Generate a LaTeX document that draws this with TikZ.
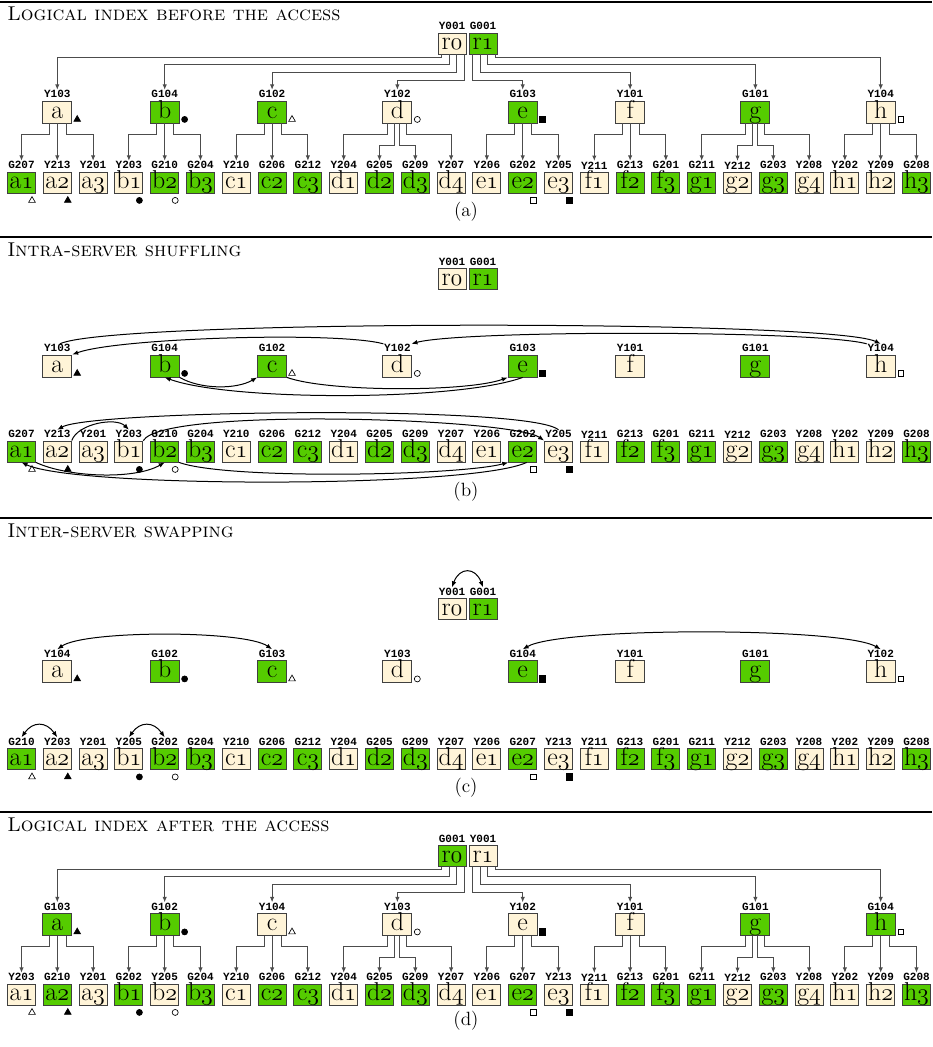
\documentclass[tikz,border=0pt]{standalone}
\usepackage{fontspec}
\usepackage{tikz}
\usetikzlibrary{arrows.meta,positioning,calc,shapes.geometric}
\newfontfamily\tagfont{Liberation Mono}
\definecolor{cellY}{HTML}{FFF4D8}
\definecolor{cellG}{HTML}{55CC00}
\newcommand{\osn}[1]{{\usefont{OML}{cmm}{m}{it}#1}}
% size, name, x, y, text, colour letter, number
\newcommand{\cell}[7]{%
  \node[#1, fill=cell#6] (#2) at (#3,#4) {#5};
  \node[tag, above=1pt of #2] (#2t) {#6#7};}
\tikzset{
  cellbox/.style={draw=black!75, line width=0.5pt, inner sep=0pt, font=\fontsize{15.5}{15.5}\selectfont, text height=9.8pt, text depth=2.6pt},
  leafbox/.style={cellbox, minimum width=16.8pt, minimum height=12.6pt},
  midbox/.style={cellbox, minimum width=17.4pt, minimum height=13.2pt},
  tag/.style={inner sep=0.3pt, font=\tagfont\bfseries\fontsize{6.6}{6.6}\selectfont},
  panelrule/.style={line width=1.7pt},
  caption/.style={anchor=west, inner sep=0pt, font=\fontsize{12}{14}\selectfont},
  subcap/.style={font=\fontsize{11.5}{13}\selectfont},
  treeline/.style={draw=black!70, line width=0.55pt, >={Latex[length=3.2pt,width=2.6pt]}, ->},
  shuffle/.style={draw=black, line width=0.6pt, ->},
  exchange/.style={draw=black, line width=0.6pt, <->},
  sym/.style={draw=black, line width=0.4pt, inner sep=0pt},
  ftri/.style={sym, regular polygon, regular polygon sides=3, minimum size=4.6pt, fill=black},
  otri/.style={ftri, fill=white},
  fdot/.style={sym, circle, minimum size=3.6pt, fill=black},
  odot/.style={fdot, fill=white},
  fsq/.style={sym, rectangle, minimum size=3.8pt, fill=black},
  osq/.style={fsq, minimum size=3.2pt, fill=white},
}

\begin{document}
\begin{tikzpicture}[x=0.6pt, y=-0.6pt, >={Latex[length=3.6pt,width=2.8pt]}]
  \useasboundingbox (0,0) rectangle (932,1047);

  % (a) logical index before
  \draw[panelrule] (0,2) -- (932,2);
  \node[caption] (capA) at (7,14) {\textsc{Logical index before the access}};
  \cell{leafbox}{A-r0}{452}{43.5}{r\osn{0}}{Y}{001}
  \cell{leafbox}{A-r1}{483}{43.5}{r\osn{1}}{G}{001}
  \foreach \m/\k/\c/\n in {a/1/Y/103, b/4/G/104, c/7/G/102, d/10.5/Y/102, e/14/G/103, f/17/Y/101, g/20.5/G/101, h/24/Y/104}
    {\cell{midbox}{A-\m}{21.5+35.8*\k}{112}{\m}{\c}{\n}}
  \foreach \l/\d/\c/\n [count=\i from 0] in {a/1/G/207, a/2/Y/213, a/3/Y/201, b/1/Y/203, b/2/G/210, b/3/G/204, c/1/Y/210, c/2/G/206, c/3/G/212, d/1/Y/204, d/2/G/205, d/3/G/209, d/4/Y/207, e/1/Y/206, e/2/G/202, e/3/Y/205, f/1/Y/211, f/2/G/213, f/3/G/201, g/1/G/211, g/2/Y/212, g/3/G/203, g/4/Y/208, h/1/Y/202, h/2/Y/209, h/3/G/208}
    {\cell{leafbox}{A-\l\d}{21.5+35.8*\i}{182.5}{\l\osn{\d}}{\c}{\n}}
  \node[subcap] (subA) at (466,212) {(a)};

  % (b) intra-server shuffling
  \draw[panelrule] (0,237) -- (932,237);
  \node[caption] (capB) at (7,250) {\textsc{Intra-server shuffling}};
  \cell{leafbox}{B-r0}{452}{279}{r\osn{0}}{Y}{001}
  \cell{leafbox}{B-r1}{483}{279}{r\osn{1}}{G}{001}
  \foreach \m/\k/\c/\n in {a/1/Y/103, b/4/G/104, c/7/G/102, d/10.5/Y/102, e/14/G/103, f/17/Y/101, g/20.5/G/101, h/24/Y/104}
    {\cell{midbox}{B-\m}{21.5+35.8*\k}{366}{\m}{\c}{\n}}
  \foreach \l/\d/\c/\n [count=\i from 0] in {a/1/G/207, a/2/Y/213, a/3/Y/201, b/1/Y/203, b/2/G/210, b/3/G/204, c/1/Y/210, c/2/G/206, c/3/G/212, d/1/Y/204, d/2/G/205, d/3/G/209, d/4/Y/207, e/1/Y/206, e/2/G/202, e/3/Y/205, f/1/Y/211, f/2/G/213, f/3/G/201, g/1/G/211, g/2/Y/212, g/3/G/203, g/4/Y/208, h/1/Y/202, h/2/Y/209, h/3/G/208}
    {\cell{leafbox}{B-\l\d}{21.5+35.8*\i}{451.5}{\l\osn{\d}}{\c}{\n}}
  \node[subcap] (subB) at (466,492) {(b)};

  % (c) inter-server swapping
  \draw[panelrule] (0,518) -- (932,518);
  \node[caption] (capC) at (7,531) {\textsc{Inter-server swapping}};
  \cell{leafbox}{C-r0}{452}{609}{r\osn{0}}{Y}{001}
  \cell{leafbox}{C-r1}{483}{609}{r\osn{1}}{G}{001}
  \foreach \m/\k/\c/\n in {a/1/Y/104, b/4/G/102, c/7/G/103, d/10.5/Y/103, e/14/G/104, f/17/Y/101, g/20.5/G/101, h/24/Y/102}
    {\cell{midbox}{C-\m}{21.5+35.8*\k}{671.5}{\m}{\c}{\n}}
  \foreach \l/\d/\c/\n [count=\i from 0] in {a/1/G/210, a/2/Y/203, a/3/Y/201, b/1/Y/205, b/2/G/202, b/3/G/204, c/1/Y/210, c/2/G/206, c/3/G/212, d/1/Y/204, d/2/G/205, d/3/G/209, d/4/Y/207, e/1/Y/206, e/2/G/207, e/3/Y/213, f/1/Y/211, f/2/G/213, f/3/G/201, g/1/G/211, g/2/Y/212, g/3/G/203, g/4/Y/208, h/1/Y/202, h/2/Y/209, h/3/G/208}
    {\cell{leafbox}{C-\l\d}{21.5+35.8*\i}{759}{\l\osn{\d}}{\c}{\n}}
  \node[subcap] (subC) at (466,788) {(c)};

  % (d) logical index after
  \draw[panelrule] (0,812) -- (932,812);
  \node[caption] (capD) at (7,825) {\textsc{Logical index after the access}};
  \cell{leafbox}{D-r0}{452}{856}{r\osn{0}}{G}{001}
  \cell{leafbox}{D-r1}{483}{856}{r\osn{1}}{Y}{001}
  \foreach \m/\k/\c/\n in {a/1/G/103, b/4/G/102, c/7/Y/104, d/10.5/Y/103, e/14/Y/102, f/17/Y/101, g/20.5/G/101, h/24/G/104}
    {\cell{midbox}{D-\m}{21.5+35.8*\k}{924.5}{\m}{\c}{\n}}
  \foreach \l/\d/\c/\n [count=\i from 0] in {a/1/Y/203, a/2/G/210, a/3/Y/201, b/1/G/202, b/2/Y/205, b/3/G/204, c/1/Y/210, c/2/G/206, c/3/G/212, d/1/Y/204, d/2/G/205, d/3/G/209, d/4/Y/207, e/1/Y/206, e/2/G/207, e/3/Y/213, f/1/Y/211, f/2/G/213, f/3/G/201, g/1/G/211, g/2/Y/212, g/3/G/203, g/4/Y/208, h/1/Y/202, h/2/Y/209, h/3/G/208}
    {\cell{leafbox}{D-\l\d}{21.5+35.8*\i}{994.5}{\l\osn{\d}}{\c}{\n}}
  \node[subcap] (subD) at (466,1021) {(d)};

  % markers, same slots in every panel
  \foreach \p in {A,B,C,D} {
    \foreach \m/\s in {a/ftri, b/fdot, c/otri, d/odot, e/fsq, h/osq}
      \node[\s] (\p-\m m) at ($(\p-\m.south east)+(5,-4)$) {};
    \foreach \m/\s in {a1/otri, a2/ftri, b1/fdot, b2/odot, e2/osq, e3/fsq}
      \node[\s] (\p-\m m) at ($(\p-\m.south)+(10.5,7)$) {};
  }

  % tree links in (a) and (d)
  \foreach \p in {A,D} {
    \foreach \m/\dx/\dy in {a/-11/3, b/-3/10, c/4/18, d/12/26}
      \draw[treeline] ($(\p-r0.south)+(\dx,0)$) -- ++(0,\dy) -| (\p-\m t.north);
    \foreach \m/\dx/\dy in {e/-11/26, f/-3/18, g/4/10, h/12/3}
      \draw[treeline] ($(\p-r1.south)+(\dx,0)$) -- ++(0,\dy) -| (\p-\m t.north);
    \foreach \m in {a,b,c,e,f,h} {
      \draw[treeline] ($(\p-\m.south)+(-8,0)$) -- ++(0,11) -| (\p-\m1t.north);
      \draw[treeline] (\p-\m.south) -- (\p-\m2t.north);
      \draw[treeline] ($(\p-\m.south)+(9,0)$) -- ++(0,11) -| (\p-\m3t.north);
    }
    \foreach \m in {d,g} {
      \draw[treeline] ($(\p-\m.south)+(-10,0)$) -- ++(0,11) -| (\p-\m1t.north);
      \draw[treeline] ($(\p-\m.south)+(-3,0)$) -- ++(0,22) -| (\p-\m2t.north);
      \draw[treeline] ($(\p-\m.south)+(2,0)$) -- ++(0,22) -| (\p-\m3t.north);
      \draw[treeline] ($(\p-\m.south)+(9,0)$) -- ++(0,11) -| (\p-\m4t.north);
    }
  }

  % shuffles in (b)
  \draw[shuffle] (B-at.60) to[out=25, in=155, looseness=0.18] (B-ht.north);
  \draw[shuffle] (B-dt.north west) to[out=165, in=20, looseness=0.4] (B-a.north east);
  \draw[shuffle] (B-ht.north west) to[out=165, in=15, looseness=0.3] (B-dt.north east);
  \draw[shuffle] (B-b.south east) to[out=-30, in=-150, looseness=0.8] (B-c.south west);
  \draw[shuffle] (B-c.south east) to[out=-20, in=-160, looseness=0.5] (B-e.south west);
  \draw[shuffle] (B-e.south) to[out=-160, in=-20, looseness=0.5] (B-b.south);
  \draw[shuffle] (B-a2.north east) to[out=70, in=135, looseness=0.8] (B-b1t.north);
  \draw[shuffle] (B-e3t.north) to[out=140, in=30, looseness=0.2] (B-a2t.north);
  \draw[shuffle] (B-b1.north east) to[out=60, in=145, looseness=0.25] (B-e3.north west);
  \draw[shuffle] (B-a1.south east) to[out=-25, in=-150, looseness=0.7] (B-b2.south);
  \draw[shuffle] (B-b2.south east) to[out=-20, in=-165, looseness=0.4] (B-e2.south west);
  \draw[shuffle] (B-e2.-70) to[out=-155, in=-25, looseness=0.31] (B-a1.south);

  % swaps in (c)
  \draw[exchange] (C-r0t.north) to[bend left=70, looseness=1.8] (C-r1t.north);
  \draw[exchange] (C-at.north) to[out=35, in=145, looseness=0.4] (C-ct.north);
  \draw[exchange] (C-et.north) to[out=30, in=150, looseness=0.32] (C-ht.north);
  \draw[exchange] (C-a1t.north) to[bend left=55, looseness=1.4] (C-a2t.north);
  \draw[exchange] (C-b1t.north) to[bend left=55, looseness=1.4] (C-b2t.north);
\end{tikzpicture}
\end{document}
